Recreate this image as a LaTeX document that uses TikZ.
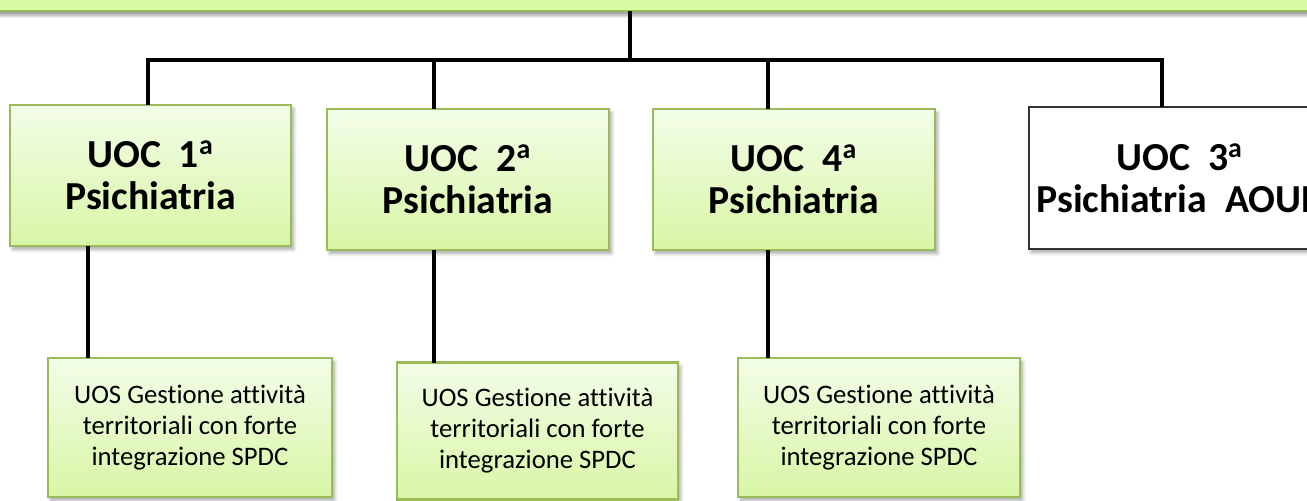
\documentclass[tikz,border=0pt]{standalone}
\usepackage{fontspec}
\setmainfont{Carlito}[Ligatures={NoCommon}]
\usetikzlibrary{shadows.blur}
\definecolor{gborder}{HTML}{9BBB59}
\definecolor{gtop}{HTML}{F3FDE8}
\definecolor{gbot}{HTML}{D8F6A6}
\definecolor{gbar}{HTML}{DAFBA6}
\tikzset{
  gbox/.style={draw=gborder, line width=1.4pt, top color=gtop, bottom color=gbot,
    inner sep=0pt, outer sep=0pt, align=center,
    blur shadow={shadow xshift=1.5pt, shadow yshift=-2pt, shadow opacity=35, shadow blur steps=6}},
  wbox/.style={draw=black!80, line width=1.4pt, fill=white,
    inner sep=0pt, outer sep=0pt, align=center,
    blur shadow={shadow xshift=1.5pt, shadow yshift=-2pt, shadow opacity=35, shadow blur steps=6}},
  bigtxt/.style={font=\fontsize{22.6}{24}\selectfont\bfseries},
  smalltxt/.style={font=\fontsize{15.2}{17.6}\selectfont},
  conn/.style={draw=black, line width=2pt}
}
\begin{document}
\begin{tikzpicture}[x=0.02cm,y=-0.02cm]
\useasboundingbox (0,0) rectangle (1307,500);
% top bar
\node[draw=gborder, line width=1.4pt, fill=gbar, inner sep=0pt, outer sep=0pt,
  minimum width=27cm, minimum height=2cm, anchor=south,
  blur shadow={shadow xshift=0pt, shadow yshift=-2.5pt, shadow opacity=40, shadow blur steps=6}]
  (top) at (653,11) {};
% upper boxes
\node[gbox, bigtxt, minimum width=5.62cm, minimum height=2.82cm] (b1) at (150.5,175.5) {UOC\ \ 1\textsuperscript{a}\\Psichiatria};
\node[gbox, bigtxt, minimum width=5.64cm, minimum height=2.82cm] (b2) at (468,179.5) {UOC\ \ 2\textsuperscript{a}\\Psichiatria};
\node[gbox, bigtxt, minimum width=5.64cm, minimum height=2.82cm] (b3) at (794,179.5) {UOC\ \ 4\textsuperscript{a}\\Psichiatria};
\node[wbox, bigtxt, minimum width=6.02cm, minimum height=2.84cm] (b4) at (1179.5,178) {UOC\ \ 3\textsuperscript{a}\\Psichiatria\ \ AOUP};
% lower boxes
\node[gbox, smalltxt, minimum width=5.68cm, minimum height=2.78cm] (s1) at (190,427.5) {UOS Gestione attività\\territoriali con forte\\integrazione SPDC};
\node[gbox, smalltxt, minimum width=5.62cm, minimum height=2.74cm] (s2) at (537.5,431) {UOS Gestione attività\\territoriali con forte\\integrazione SPDC};
\node[gbox, smalltxt, minimum width=5.64cm, minimum height=2.78cm] (s3) at (879,427.5) {UOS Gestione attività\\territoriali con forte\\integrazione SPDC};
% connector coordinates
\coordinate (hub) at (630,60);
\coordinate (d1) at (148,60);
\coordinate (d2) at (434,60);
\coordinate (d3) at (768,60);
\coordinate (d4) at (1162,60);
\coordinate (l1) at (88,300);
\coordinate (l2) at (434,300);
\coordinate (l3) at (768,300);
% connectors
\draw[conn] (top.south -| hub) -- (hub);
\draw[conn] (d1 |- b1.north) -- (d1) -- (d4) -- (d4 |- b4.north);
\draw[conn] (d2) -- (d2 |- b2.north);
\draw[conn] (d3) -- (d3 |- b3.north);
\draw[conn] (l1 |- b1.south) -- (l1 |- s1.north);
\draw[conn] (l2 |- b2.south) -- (l2 |- s2.north);
\draw[conn] (l3 |- b3.south) -- (l3 |- s3.north);
\end{tikzpicture}
\end{document}
